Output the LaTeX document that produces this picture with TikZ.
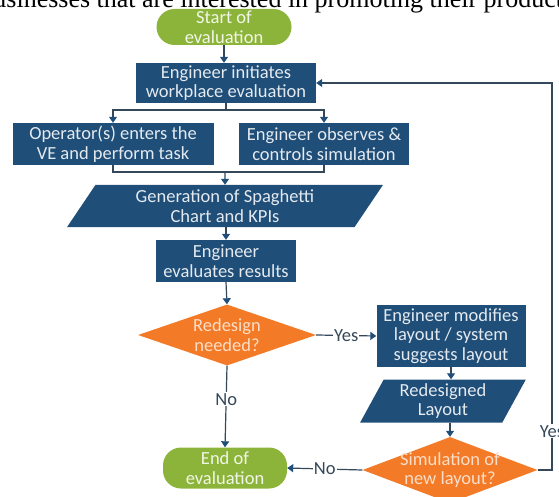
\documentclass[tikz,border=0pt]{standalone}
\usepackage{fontspec}
\setmainfont{Carlito}
\newfontfamily\paperfont{Liberation Serif}
\usetikzlibrary{arrows.meta,shapes.geometric}
\definecolor{myblue}{RGB}{31,78,121}
\definecolor{myorange}{RGB}{243,122,38}
\definecolor{mygreen}{RGB}{141,180,58}
\definecolor{myline}{RGB}{52,72,90}

\begin{document}
\begin{tikzpicture}[x=1pt,y=-1pt,>={Triangle[width=8pt,length=6pt]},
  font=\fontsize{18.5}{19.5}\selectfont,
  proc/.style={rectangle,fill=myblue,text=white!88!myblue,align=center,inner sep=0pt},
  io/.style={trapezium,trapezium stretches=true,fill=myblue,text=white!88!myblue,align=center,inner sep=0pt},
  decision/.style={diamond,fill=myorange,inner sep=0pt},
  dectext/.style={text=myorange!25,align=center,inner sep=0pt},
  term/.style={rectangle,rounded corners=18pt,fill=mygreen,text=mygreen!12,align=center,inner sep=0pt},
  flow/.style={myline,line width=1.2pt},
  tip/.style={-{Triangle[width=8pt,length=6pt,color=myblue]}},
  tag/.style={fill=white,text=myline,inner sep=1pt}]
\useasboundingbox (0,0) rectangle (559,497);
% line of the paper above the figure, cut by the page
\node[anchor=base west,inner sep=0pt,font=\paperfont\fontsize{26}{26}\selectfont] (papertext) at (142,8)
  {\llap{businesses that }are interested in promoting their products};
% left column
\node[term,minimum width=135pt,minimum height=36pt] (start) at (224,27) {Start of\\evaluation};
\node[proc,minimum width=180pt,minimum height=40pt] (init) at (226,83) {Engineer initiates\\workplace evaluation};
\node[proc,minimum width=201pt,minimum height=42pt] (oper) at (113,144) {Operator(s) enters the\\VE and perform task};
\node[proc,minimum width=170pt,minimum height=42pt] (obs) at (324,144) {Engineer observes \&\\controls simulation};
\node[io,trapezium left angle=59,trapezium right angle=121,minimum width=316pt,minimum height=42pt] (spag) at (225,206) {Generation of Spaghetti\\Chart and KPIs};
\node[proc,minimum width=140pt,minimum height=42pt] (eval) at (226,261) {Engineer\\evaluates results};
\node[decision,minimum width=178pt,minimum height=61pt,label={[dectext]center:{Redesign\\needed?}}] (redesign) at (227,335) {};
\node[term,minimum width=124pt,minimum height=41pt] (final) at (225,468) {End of\\evaluation};
% right column
\node[proc,minimum width=149pt,minimum height=62pt] (modify) at (451,336) {Engineer modifies\\layout / system\\suggests layout};
\node[io,trapezium left angle=64,trapezium right angle=116,minimum width=166pt,minimum height=43pt] (layout) at (443,401) {Redesigned\\Layout};
\node[decision,minimum width=175pt,minimum height=66pt,label={[dectext]center:{Simulation of\\new layout?}}] (sim) at (450,470) {};
% connectors
\coordinate (split) at (226,110);
\coordinate (merge) at (225,172);
\coordinate (loop) at (552,470);
\draw[flow,tip] (start.south) -- (start.south |- init.north);
\draw[flow] (init.south) -- (split);
\draw[flow,tip] (split) -| (oper.north);
\draw[flow,tip] (split) -| (obs.north);
\draw[flow] (oper.south) |- (merge) -| (obs.south);
\draw[flow,tip] (merge) -- (spag.north);
\draw[flow,tip] (spag.south -| eval.north) -- (eval.north);
\draw[flow,tip] (eval.south) -- (redesign.north);
\draw[flow,tip] (redesign.south) -- node[tag,pos=0.41] {No} (final.north);
\draw[flow,tip] (redesign.east) -- node[tag] {Yes} (modify.west);
\draw[flow,tip] (modify.south) -- (modify.south |- layout.north);
\draw[flow,tip] (layout.south -| sim.north) -- (sim.north);
\draw[flow,tip] (sim.west) -- node[tag] {No} (final.east);
\draw[flow,tip] (sim.east) -- (loop) -- node[tag,pos=0.1] {Yes} (loop |- init.east) -- (init.east);
\end{tikzpicture}
\end{document}
